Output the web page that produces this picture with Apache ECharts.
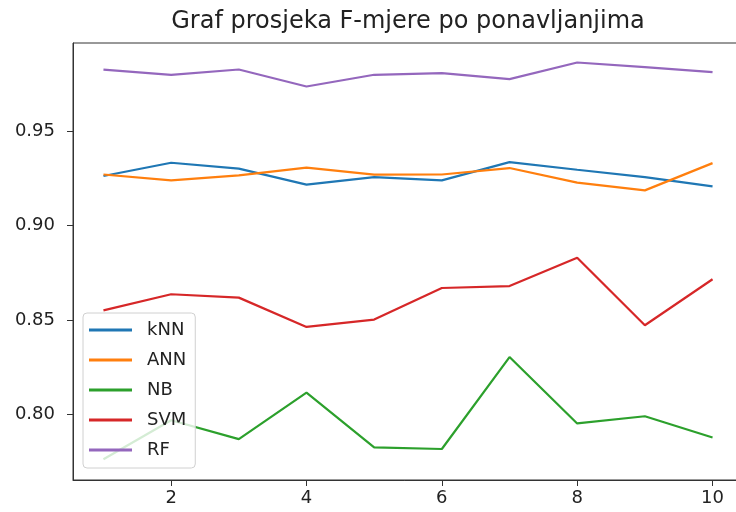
<!DOCTYPE html>
<html>
<head>
    <meta charset="UTF-8">
    <title>Graf prosjeka F-mjere</title>
    <style>
        body,
        html {
            width: 100%;
            height: 100%;
            margin: 0;
            padding: 0;
            background: #fff;
        }
        #myChart {
            width: 736px;
            height: 512px;
        }
    </style>
    <script src="https://cdn.jsdelivr.net/npm/echarts@6/dist/echarts.min.js"></script>
</head>
<body>
    <div id="myChart"></div>
    <script>
        // podaci (ponavljanja 1..10)
        let runs = [1, 2, 3, 4, 5, 6, 7, 8, 9, 10];
        let knn = [0.9262, 0.9332, 0.9301, 0.9216, 0.9256, 0.9239, 0.9335, 0.9295, 0.9256, 0.9207];
        let ann = [0.9270, 0.9239, 0.9265, 0.9306, 0.9269, 0.9270, 0.9304, 0.9227, 0.9186, 0.9330];
        let nb = [0.7765, 0.7971, 0.7871, 0.8117, 0.7827, 0.7819, 0.8305, 0.7954, 0.7992, 0.7880];
        let svm = [0.8552, 0.8637, 0.8619, 0.8464, 0.8503, 0.8670, 0.8680, 0.8830, 0.8473, 0.8716];
        let rf = [0.9824, 0.9797, 0.9825, 0.9735, 0.9797, 0.9806, 0.9774, 0.9862, 0.9837, 0.9811];

        let xTicks = [2, 4, 6, 8, 10];
        let yTicks = [0.80, 0.85, 0.90, 0.95];

        let names = ['kNN', 'ANN', 'NB', 'SVM', 'RF'];
        let values = [knn, ann, nb, svm, rf];
        let colors = ['#1f77b4', '#ff7f0e', '#2ca02c', '#d62728', '#9467bd'];

        let font = 'DejaVu Sans';
        let textColor = '#222';

        let myEcharts = echarts.init(document.querySelector('#myChart'));

        let option = {
            animation: false,
            title: {
                text: 'Graf prosjeka F-mjere po ponavljanjima',
                left: 408,
                top: 10,
                padding: 0,
                textAlign: 'center',
                textStyle: { fontFamily: font, fontSize: 24, fontWeight: 'normal', color: textColor }
            },
            grid: {
                left: 73,
                top: 43,
                width: 670,
                bottom: 32,
                outerBoundsMode: 'none',
                show: true,
                borderColor: '#333',
                borderWidth: 1
            },
            legend: {
                orient: 'vertical',
                left: 83,
                top: 313,
                padding: [8, 9, 9, 6],
                itemGap: 12,
                itemWidth: 43,
                itemHeight: 3,
                icon: 'rect',
                backgroundColor: 'rgba(255,255,255,0.8)',
                borderColor: '#d0d0d0',
                borderWidth: 1,
                borderRadius: 4,
                textStyle: { fontFamily: font, fontSize: 18, lineHeight: 18, color: textColor, padding: [0, 0, 0, 10] },
                data: names
            },
            xAxis: {
                type: 'value',
                min: 0.55,
                max: 10.45,
                splitLine: { show: false },
                axisLine: { show: true, lineStyle: { color: '#333', width: 1 } },
                axisTick: { show: true, length: 6, customValues: xTicks, lineStyle: { color: '#333' } },
                axisLabel: {
                    customValues: xTicks,
                    margin: 9,
                    fontFamily: font,
                    fontSize: 18,
                    color: textColor
                }
            },
            yAxis: {
                type: 'value',
                min: 0.7655,
                max: 0.9965,
                splitLine: { show: false },
                axisLine: { show: true, lineStyle: { color: '#333', width: 1 } },
                axisTick: { show: true, length: 6, customValues: yTicks, lineStyle: { color: '#333' } },
                axisLabel: {
                    customValues: yTicks,
                    margin: 18,
                    fontFamily: font,
                    fontSize: 18,
                    color: textColor,
                    formatter: v => v.toFixed(2)
                }
            },
            series: names.map((name, i) => ({
                name: name,
                type: 'line',
                showSymbol: false,
                color: colors[i],
                lineStyle: { width: 2.2, color: colors[i] },
                data: runs.map((r, j) => [r, values[i][j]])
            }))
        };
        myEcharts.setOption(option, true);
    </script>
</body>
</html>
